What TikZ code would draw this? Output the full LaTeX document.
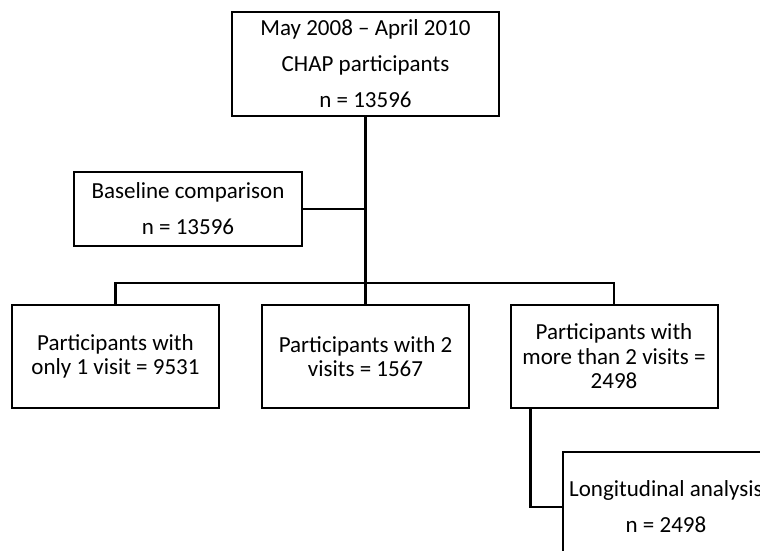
\documentclass[tikz,border=0pt]{standalone}
\usepackage{fontspec}
\setmainfont{Carlito}
\begin{document}
\begin{tikzpicture}[
              x=1pt, y=-1pt,
              box/.style={draw,line width=2pt,align=center,inner sep=0pt,
                          minimum width=207pt,minimum height=103pt,
                          font=\fontsize{23}{24.5}\selectfont},
              wide/.style={font=\fontsize{23}{36}\selectfont},
              link/.style={line width=2.6pt}
            ]
            \useasboundingbox (0,0) rectangle (760,551);
            \clip (0,0) rectangle (760,551);

            % Box: all participants
            \node[box,wide,minimum width=267pt,minimum height=104pt] (all) at (365.5,64)
              {May 2008 -- April 2010\\CHAP participants\\n = 13596};

            % Box: baseline
            \node[box,wide,minimum width=228pt,minimum height=74pt] (base) at (188,209)
              {Baseline comparison\\n = 13596};

            % Boxes: visits
            \node[box] (one) at (115.5,356.5) {Participants with\\only 1 visit = 9531};
            \node[box] (two) at (365.5,356.5) {Participants with 2\\visits = 1567};
            \node[box] (more) at (614,356.5) {Participants with\\more than 2 visits =\\2498};

            % Box: longitudinal
            \node[box,wide,minimum height=110pt] (long) at (666,507)
              {Longitudinal analysis\\n = 2498};

            % Links
            \coordinate (split) at (365.5,283);
            \draw[link] (all.south) -- (split);
            \draw[link] (base.east) -- (base.east -| all.south);
            \draw[link] (one.north) |- (split) -| (more.north);
            \draw[link] (split) -- (two.north);
            \draw[link] ([xshift=21pt]more.south west) |- (long.west);

            \end{tikzpicture}
\end{document}
